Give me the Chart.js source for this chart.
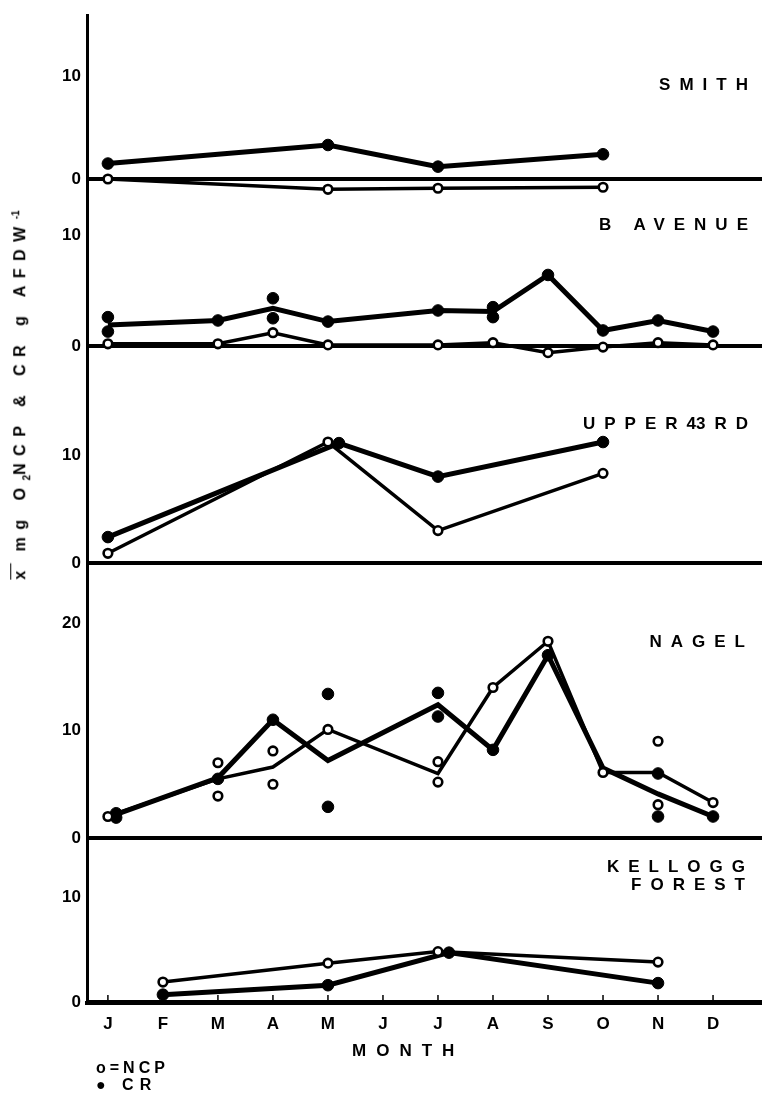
<!DOCTYPE html>
<html>
<head>
<meta charset="utf-8">
<script src="https://cdn.jsdelivr.net/npm/chart.js@4.4.1/dist/chart.umd.min.js"></script>
<style>
  html, body { margin: 0; padding: 0; background: #fff; }
  #wrap { position: relative; width: 762px; height: 1097px; overflow: hidden;
          font-family: "Liberation Sans", Arial, sans-serif; font-weight: bold; color: #000; }
  #chart { position: absolute; left: 0; top: 0; }
  .lbl { position: absolute; font-size: 17px; letter-spacing: 9px; white-space: nowrap;
         transform: translateY(-50%); line-height: 1; }
  .title { text-align: right; }
  #ytitle { position: absolute; left: 21px; top: 395px; font-size: 16px; letter-spacing: 7.5px;
            white-space: nowrap; transform: translate(-50%, -50%) rotate(-90deg); }
  #ytitle .xbar { text-decoration: overline; }
  sub, sup { font-size: 10px; letter-spacing: 0; }
</style>
</head>
<body>
<div id="wrap">
  <canvas id="chart" width="762" height="1097"></canvas>
  <div class="lbl title" style="right:5px; top:84px">SMITH</div>
  <div class="lbl title" style="right:5px; top:224px">B AVENUE</div>
  <div class="lbl title" style="right:5px; top:423px">UPPER<span style="letter-spacing:0">4</span>3RD</div>
  <div class="lbl title" style="right:8px; top:641px">NAGEL</div>
  <div class="lbl title" style="right:8px; top:866px">KELLOGG</div>
  <div class="lbl title" style="right:8px; top:884px">FOREST</div>
  <div id="ytitle"><span class="xbar">x</span> mg O<sub>2</sub>NCP &amp; CR g AFDW<sup>-1</sup></div>
  <div class="lbl" style="left:352px; top:1050px; letter-spacing:10px">MONTH</div>
  <div class="lbl" style="left:96px; top:1068px; font-size:16px; letter-spacing:4px">o=NCP</div>
  <div class="lbl" style="left:96px; top:1085px; font-size:16px; letter-spacing:6px">● CR</div>
</div>
<script>
// month categories on the x axis
const months = ['J', 'F', 'M', 'A', 'M', 'J', 'J', 'A', 'S', 'O', 'N', 'D'];

// SMITH
const smithNcpMonths = [0, 4, 6, 9];
const smithNcp = [0, -1.0, -0.9, -0.8];
const smithCrMonths = [0, 4, 6, 9];
const smithCr = [1.5, 3.3, 1.2, 2.4];
const smithTicks = [0, 10];

// B AVENUE
const baveNcpMonths = [0, 2, 3, 4, 6, 7, 8, 9, 10, 11];
const baveNcp = [0.2, 0.2, 1.2, 0.1, 0.1, 0.3, -0.6, -0.1, 0.3, 0.1];
const baveCrMonths = [0, 2, 3, 4, 6, 7, 8, 9, 10, 11];
const baveCr = [1.9, 2.3, 3.4, 2.2, 3.2, 3.1, 6.4, 1.4, 2.3, 1.3];
const baveCrObsMonths = [0, 0, 2, 3, 3, 4, 6, 7, 7, 8, 9, 10, 11];
const baveCrObs = [2.6, 1.3, 2.3, 4.3, 2.5, 2.2, 3.2, 3.5, 2.6, 6.4, 1.4, 2.3, 1.3];
const baveTicks = [0, 10];

// UPPER 43RD
const upperNcpMonths = [0, 4, 6, 9];
const upperNcp = [0.9, 11.2, 3.0, 8.3];
const upperCrMonths = [0, 4.2, 6, 9];
const upperCr = [2.4, 11.1, 8.0, 11.2];
const upperTicks = [0, 10];

// NAGEL
const nagelNcpMonths = [0, 2, 3, 4, 6, 7, 8, 9, 10, 11];
const nagelNcp = [2.0, 5.5, 6.6, 10.1, 6.0, 14.0, 18.3, 6.1, 6.1, 3.3];
const nagelNcpObsMonths = [0, 2, 2, 3, 3, 4, 6, 6, 7, 8, 9, 10, 10, 11];
const nagelNcpObs = [2.0, 7.0, 3.9, 8.1, 5.0, 10.1, 7.1, 5.2, 14.0, 18.3, 6.1, 9.0, 3.1, 3.3];
const nagelCrMonths = [0.15, 2, 3, 4, 6, 7, 8, 9, 10, 11];
const nagelCr = [2.2, 5.6, 11.0, 7.2, 12.4, 8.2, 17.0, 6.5, 4.1, 2.0];
const nagelCrObsMonths = [0.15, 0.15, 2, 3, 4, 4, 6, 6, 7, 8, 10, 10, 11];
const nagelCrObs = [2.3, 1.9, 5.5, 11.0, 13.4, 2.9, 13.5, 11.3, 8.2, 17.0, 6.0, 2.0, 2.0];
const nagelTicks = [0, 10, 20];

// KELLOGG FOREST
const kelloggNcpMonths = [1, 4, 6, 10];
const kelloggNcp = [1.9, 3.7, 4.8, 3.8];
const kelloggCrMonths = [1, 4, 6.2, 10];
const kelloggCr = [0.7, 1.6, 4.7, 1.8];
const kelloggTicks = [0, 10];

// layout: plot area and where each panel's zero line sits
const AREA_TOP = 15, AREA_BOTTOM = 1003, X_AXIS_HEIGHT = 94;
const panels = [
  { id: 'ySmith', zero: 179, perUnit: 10.3, ticks: smithTicks,
    ncp: [smithNcpMonths, smithNcp], cr: [smithCrMonths, smithCr],
    ncpObs: [smithNcpMonths, smithNcp], crObs: [smithCrMonths, smithCr] },
  { id: 'yBave', zero: 346, perUnit: 11.1, ticks: baveTicks,
    ncp: [baveNcpMonths, baveNcp], cr: [baveCrMonths, baveCr],
    ncpObs: [baveNcpMonths, baveNcp], crObs: [baveCrObsMonths, baveCrObs] },
  { id: 'yUpper', zero: 563, perUnit: 10.8, ticks: upperTicks,
    ncp: [upperNcpMonths, upperNcp], cr: [upperCrMonths, upperCr],
    ncpObs: [upperNcpMonths, upperNcp], crObs: [upperCrMonths, upperCr] },
  { id: 'yNagel', zero: 838, perUnit: 10.75, ticks: nagelTicks,
    ncp: [nagelNcpMonths, nagelNcp], cr: [nagelCrMonths, nagelCr],
    ncpObs: [nagelNcpObsMonths, nagelNcpObs], crObs: [nagelCrObsMonths, nagelCrObs] },
  { id: 'yKellogg', zero: 1002, perUnit: 10.5, ticks: kelloggTicks,
    ncp: [kelloggNcpMonths, kelloggNcp], cr: [kelloggCrMonths, kelloggCr],
    ncpObs: [kelloggNcpMonths, kelloggNcp], crObs: [kelloggCrMonths, kelloggCr] }
];

const tickFont = { family: '"Liberation Sans", Arial, sans-serif', weight: 'bold', size: 17 };

function points(pair) {
  return pair[0].map((m, i) => ({ x: m, y: pair[1][i] }));
}

function lineSet(axis, pair, width) {
  return {
    yAxisID: axis, data: points(pair), borderColor: '#000', borderWidth: width,
    pointRadius: 0, pointHoverRadius: 0, fill: false, tension: 0, order: 3
  };
}

function dotSet(axis, pair, open) {
  return {
    yAxisID: axis, data: points(pair), showLine: false,
    pointRadius: open ? 4.3 : 5.8, pointHoverRadius: open ? 4.3 : 5.8,
    pointBackgroundColor: open ? '#fff' : '#000', pointBorderColor: '#000',
    pointBorderWidth: open ? 2.6 : 1, order: open ? 1 : 2
  };
}

const datasets = [];
const scales = {
  x: {
    type: 'linear', min: -0.38, max: 11.89,
    afterFit: s => { s.height = X_AXIS_HEIGHT; },
    afterBuildTicks: s => { s.ticks = months.map((m, i) => ({ value: i })); },
    ticks: { callback: v => months[v], font: tickFont, color: '#000', padding: 11,
             autoSkip: false, maxRotation: 0 },
    grid: { display: false, drawTicks: false },
    border: { display: true, color: '#000', width: 4 }
  }
};

panels.forEach((p, i) => {
  scales[p.id] = {
    type: 'linear', position: 'left',
    min: -(AREA_BOTTOM - p.zero) / p.perUnit,
    max: (p.zero - AREA_TOP) / p.perUnit,
    afterFit: s => { s.width = 0; },
    afterBuildTicks: s => { s.ticks = p.ticks.map(v => ({ value: v })); },
    // mirrored so the labels are not clipped to the zero-width axis box
    ticks: { font: tickFont, color: '#000', mirror: true, crossAlign: 'far', padding: -25,
             callback: v => String(v) },
    grid: {
      drawTicks: false, lineWidth: 4,
      color: c => (c.tick && c.tick.value === 0) ? '#000' : 'rgba(0,0,0,0)'
    },
    border: { display: i === 0, color: '#000', width: 3 }
  };
  datasets.push(lineSet(p.id, p.ncp, 3.5));
  datasets.push(lineSet(p.id, p.cr, 5));
  datasets.push(dotSet(p.id, p.crObs, false));
  datasets.push(dotSet(p.id, p.ncpObs, true));
});

// small month tick marks sitting on the bottom zero line
const monthTicks = {
  id: 'monthTicks',
  afterDraw(chart) {
    const { ctx, chartArea } = chart;
    const x = chart.scales.x;
    ctx.save();
    ctx.strokeStyle = '#000';
    ctx.lineWidth = 1.5;
    x.ticks.forEach(t => {
      const px = x.getPixelForValue(t.value);
      ctx.beginPath();
      ctx.moveTo(px, chartArea.bottom - 8);
      ctx.lineTo(px, chartArea.bottom + 1);
      ctx.stroke();
    });
    ctx.restore();
  }
};

new Chart(document.getElementById('chart'), {
  type: 'line',
  data: { datasets },
  options: {
    responsive: false,
    animation: false,
    layout: { autoPadding: false, padding: { left: 87, top: AREA_TOP, right: 0, bottom: 0 } },
    scales,
    plugins: { legend: { display: false }, tooltip: { enabled: false } }
  },
  plugins: [monthTicks]
});
</script>
</body>
</html>
